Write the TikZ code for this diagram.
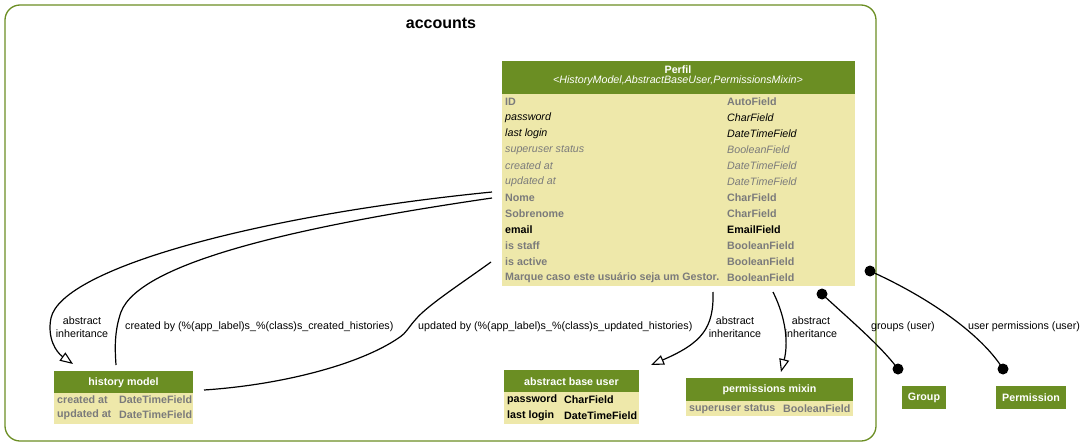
\documentclass[tikz,border=0pt]{standalone}
\usepackage{fontspec}
\setmainfont{Liberation Sans}
\usetikzlibrary{arrows.meta,calc}
\definecolor{hdrc}{HTML}{6B8E23}
\definecolor{bodyc}{HTML}{EEE8AA}
\definecolor{greyt}{HTML}{7B7B7B}
\newcommand\fsz{\fontsize{10.7}{12.4}\selectfont}
\tikzset{
  clusterbox/.style={draw=hdrc, line width=1.3pt, rounded corners=15pt, minimum width=871pt, minimum height=436pt, inner sep=0pt},
  hdrbox/.style={fill=hdrc, anchor=north west, inner sep=0pt, outer sep=0pt},
  bodybox/.style={fill=bodyc, anchor=north west, inner sep=0pt, outer sep=0pt},
  hdrtxt/.style={text=white, font=\bfseries\fsz, inner sep=0pt},
  fld/.style={anchor=west, inner sep=0pt},
  fg/.style={fld, text=greyt, font=\bfseries\fsz},
  fk/.style={fld, text=black, font=\bfseries\fsz},
  ig/.style={fld, text=greyt, font=\itshape\fsz},
  ik/.style={fld, text=black, font=\itshape\fsz},
  elabel/.style={font=\fsz, align=center, inner sep=0pt},
  edge/.style={draw=black, line width=1.2pt},
  inh/.style={edge, -{Triangle[open, length=13pt, width=10pt, line width=1.1pt]}},
  dotc/.style={fill=black},
}
\begin{document}
\begin{tikzpicture}[x=1pt,y=-1pt]
\useasboundingbox (0,0) rectangle (1087,447);
\node[clusterbox] (accounts) at (440.5,223) {};
\node[font=\bfseries\fontsize{16}{18}\selectfont, inner sep=0pt] (title) at (441,23) {accounts};

% Perfil
\node[hdrbox, minimum width=353pt, minimum height=33pt] (perfilH) at (502,61) {};
\node[hdrtxt] (perfilT1) at (678,70) {Perfil};
\node[hdrtxt, font=\itshape\fsz] (perfilT2) at (678,81) {<HistoryModel,AbstractBaseUser,PermissionsMixin>};
\node[bodybox, minimum width=353pt, minimum height=192pt] (perfil) at (502,94) {};
\node[fg] (pa1) at (505,102) {ID};                 \node[fg] (pb1) at (727,102) {AutoField};
\node[ik] (pa2) at (505,118) {password};           \node[ik] (pb2) at (727,118) {CharField};
\node[ik] (pa3) at (505,134) {last login};         \node[ik] (pb3) at (727,134) {DateTimeField};
\node[ig] (pa4) at (505,150) {superuser status};   \node[ig] (pb4) at (727,150) {BooleanField};
\node[ig] (pa5) at (505,166) {created at};         \node[ig] (pb5) at (727,166) {DateTimeField};
\node[ig] (pa6) at (505,182) {updated at};         \node[ig] (pb6) at (727,182) {DateTimeField};
\node[fg] (pa7) at (505,198) {Nome};               \node[fg] (pb7) at (727,198) {CharField};
\node[fg] (pa8) at (505,214) {Sobrenome};          \node[fg] (pb8) at (727,214) {CharField};
\node[fk] (pa9) at (505,230) {email};              \node[fk] (pb9) at (727,230) {EmailField};
\node[fg] (pa10) at (505,246) {is staff};          \node[fg] (pb10) at (727,246) {BooleanField};
\node[fg] (pa11) at (505,262) {is active};         \node[fg] (pb11) at (727,262) {BooleanField};
\node[fg] (pa12) at (505,278) {Marque caso este usuário seja um Gestor.}; \node[fg] (pb12) at (727,278) {BooleanField};

% history model
\node[hdrbox, minimum width=139pt, minimum height=22pt] (histH) at (54,371) {};
\node[hdrtxt] (histT) at (123.5,382.5) {history model};
\node[bodybox, minimum width=139pt, minimum height=31pt] (hist) at (54,393) {};
\node[fg] (ha1) at (57,400) {created at}; \node[fg] (hb1) at (119,400) {DateTimeField};
\node[fg] (ha2) at (57,415) {updated at}; \node[fg] (hb2) at (119,415) {DateTimeField};

% abstract base user
\node[hdrbox, minimum width=135pt, minimum height=22pt] (abuH) at (504,370) {};
\node[hdrtxt] (abuT) at (571.5,381.5) {abstract base user};
\node[bodybox, minimum width=135pt, minimum height=32pt] (abu) at (504,392) {};
\node[fk] (aa1) at (507,400) {password};   \node[fk] (ab1) at (564,400) {CharField};
\node[fk] (aa2) at (507,416) {last login}; \node[fk] (ab2) at (564,416) {DateTimeField};

% permissions mixin
\node[hdrbox, minimum width=167pt, minimum height=23pt] (pmH) at (686,378) {};
\node[hdrtxt] (pmT) at (769.5,390) {permissions mixin};
\node[bodybox, minimum width=167pt, minimum height=15pt] (pm) at (686,401) {};
\node[fg] (ma1) at (689,409) {superuser status}; \node[fg] (mb1) at (783,409) {BooleanField};

% Group, Permission
\node[hdrbox, minimum width=44pt, minimum height=23pt] (group) at (902,386) {};
\node[hdrtxt] (groupT) at (924,398) {Group};
\node[hdrbox, minimum width=70pt, minimum height=23pt] (perm) at (996,386) {};
\node[hdrtxt] (permT) at (1031,398) {Permission};

% connector end points
\coordinate (s1) at ($(perfil.west)+(-10,2)$);
\coordinate (s2) at ($(perfil.west)+(-10,8)$);
\coordinate (s3) at ($(perfil.west)+(-11,72)$);
\coordinate (s4) at ($(perfil.south)+(34.5,6)$);
\coordinate (s5) at ($(perfil.south)+(94.5,6)$);
\coordinate (t1) at ($(histH.north west)+(19,-7)$);
\coordinate (t2) at ($(histH.north west)+(62,-6)$);
\coordinate (t3) at ($(histH.south east)+(11,-3)$);
\coordinate (t4) at ($(abuH.north east)+(12,-5)$);
\coordinate (t5) at ($(pmH.north)+(11.5,-6)$);
\coordinate (g1) at ($(perfil.south east)+(-33,8)$);
\coordinate (g2) at ($(group.north west)+(-4,-17)$);
\coordinate (u1) at ($(perfil.south east)+(15,-15)$);
\coordinate (u2) at ($(perm.north west)+(7,-17)$);

% edges
\draw[inh] (s1) .. controls (260,215) and (62,268) .. (51,318) .. controls (47,338) and (56,352) .. (t1);
\draw[edge] (s2) .. controls (300,226) and (140,262) .. (121,312) .. controls (114,332) and (115,350) .. (t2);
\draw[edge] (s3) .. controls (462,283) and (428,305) .. (416,319) .. controls (408,328) and (406,333) .. (400,337) .. controls (360,365) and (280,385) .. (t3);
\draw[inh] (s4) .. controls (714,328) and (702,343) .. (t4);
\draw[inh] (s5) .. controls (787,320) and (788,345) .. (t5);
\draw[edge] (g1) .. controls (850,320) and (880,345) .. (g2);
\draw[edge] (u1) .. controls (930,298) and (982,335) .. (u2);
\fill[dotc] (g1) circle (5.5pt);
\fill[dotc] (g2) circle (5.5pt);
\fill[dotc] (u1) circle (5.5pt);
\fill[dotc] (u2) circle (5.5pt);

% labels
\node[elabel] (l1) at (82,327) {abstract\\inheritance};
\node[elabel, anchor=west] (l2) at (125,327) {created by (\%(app\_label)s\_\%(class)s\_created\_histories)};
\node[elabel, anchor=west] (l3) at (418,327) {updated by (\%(app\_label)s\_\%(class)s\_updated\_histories)};
\node[elabel] (l4) at (735,327) {abstract\\inheritance};
\node[elabel] (l5) at (811,327) {abstract\\inheritance};
\node[elabel] (l6) at (903,327) {groups (user)};
\node[elabel] (l7) at (1024,327) {user permissions (user)};
\end{tikzpicture}
\end{document}
